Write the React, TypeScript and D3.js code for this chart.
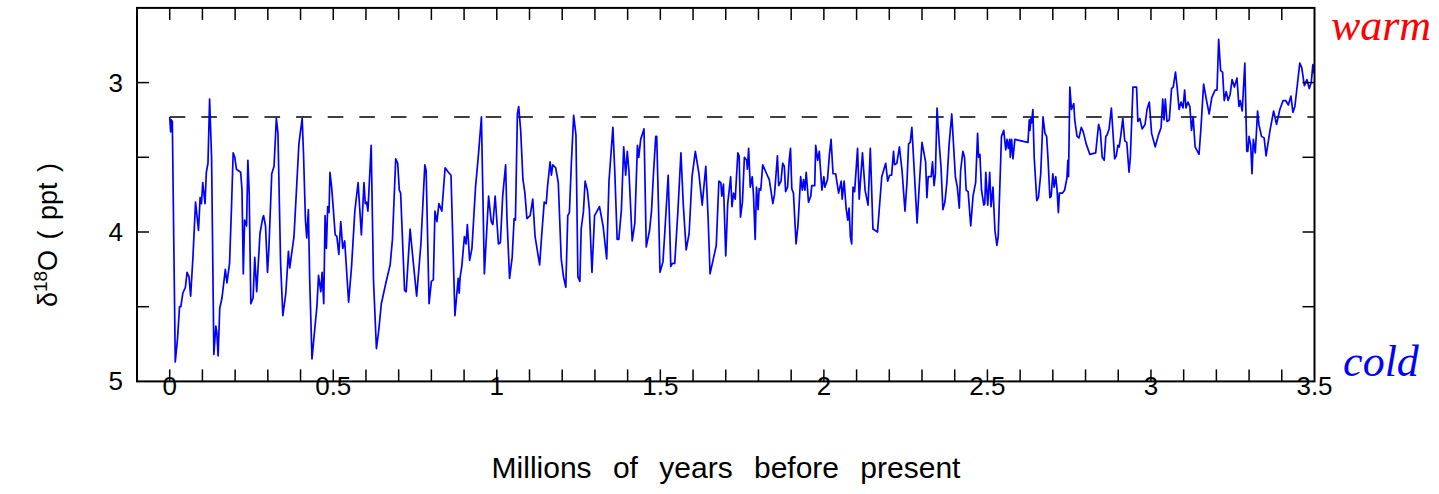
import React, { useEffect } from 'react'
import * as d3 from 'd3'

// age in millions of years before present
const ages = [
  0.000, 0.003, 0.005, 0.008, 0.017, 0.024, 0.030, 0.034, 0.040, 0.048, 0.053, 0.059, 0.064, 0.071, 0.079, 0.088, 0.093, 0.097, 0.101, 0.108,
  0.112, 0.117, 0.122, 0.128, 0.135, 0.141, 0.144, 0.148, 0.153, 0.160, 0.170, 0.175, 0.183, 0.189, 0.194, 0.199, 0.204, 0.217, 0.221, 0.225,
  0.229, 0.235, 0.239, 0.243, 0.248, 0.255, 0.260, 0.266, 0.276, 0.284, 0.287, 0.293, 0.299, 0.303, 0.312, 0.319, 0.326, 0.331, 0.339, 0.346,
  0.355, 0.363, 0.367, 0.380, 0.395, 0.405, 0.409, 0.415, 0.419, 0.424, 0.428, 0.435, 0.443, 0.450, 0.455, 0.462, 0.466, 0.471, 0.475, 0.479,
  0.483, 0.487, 0.490, 0.495, 0.499, 0.506, 0.511, 0.517, 0.523, 0.529, 0.535, 0.547, 0.556, 0.566, 0.576, 0.580, 0.586, 0.594, 0.598, 0.602,
  0.606, 0.616, 0.623, 0.632, 0.639, 0.647, 0.661, 0.674, 0.681, 0.691, 0.697, 0.702, 0.706, 0.718, 0.723, 0.735, 0.745, 0.755, 0.768, 0.780,
  0.784, 0.793, 0.800, 0.806, 0.811, 0.817, 0.823, 0.832, 0.842, 0.852, 0.860, 0.872, 0.882, 0.885, 0.888, 0.893, 0.901, 0.906, 0.910, 0.917,
  0.924, 0.935, 0.944, 0.953, 0.962, 0.975, 0.983, 0.988, 0.995, 1.005, 1.011, 1.018, 1.027, 1.031, 1.039, 1.047, 1.053, 1.057, 1.063, 1.067,
  1.073, 1.080, 1.086, 1.092, 1.102, 1.110, 1.117, 1.131, 1.137, 1.145, 1.151, 1.155, 1.163, 1.167, 1.171, 1.180, 1.188, 1.197, 1.204, 1.211,
  1.217, 1.222, 1.228, 1.235, 1.242, 1.248, 1.254, 1.258, 1.265, 1.270, 1.277, 1.283, 1.291, 1.299, 1.314, 1.325, 1.336, 1.343, 1.355, 1.361,
  1.368, 1.373, 1.381, 1.388, 1.394, 1.399, 1.404, 1.414, 1.422, 1.430, 1.434, 1.440, 1.450, 1.457, 1.467, 1.473, 1.479, 1.486, 1.489, 1.494,
  1.499, 1.508, 1.514, 1.524, 1.532, 1.537, 1.544, 1.554, 1.563, 1.570, 1.579, 1.588, 1.597, 1.607, 1.618, 1.628, 1.639, 1.646, 1.652, 1.661,
  1.671, 1.679, 1.685, 1.688, 1.693, 1.700, 1.706, 1.715, 1.719, 1.724, 1.729, 1.737, 1.741, 1.745, 1.751, 1.757, 1.764, 1.766, 1.770, 1.775,
  1.781, 1.785, 1.790, 1.794, 1.799, 1.802, 1.807, 1.813, 1.823, 1.833, 1.838, 1.844, 1.849, 1.858, 1.862, 1.869, 1.874, 1.879, 1.883, 1.889,
  1.894, 1.898, 1.902, 1.907, 1.915, 1.921, 1.929, 1.934, 1.938, 1.942, 1.946, 1.953, 1.960, 1.963, 1.972, 1.975, 1.981, 1.986, 1.994, 2.000,
  2.003, 2.011, 2.017, 2.022, 2.028, 2.036, 2.045, 2.053, 2.056, 2.062, 2.068, 2.073, 2.077, 2.081, 2.085, 2.089, 2.094, 2.103, 2.108, 2.118,
  2.126, 2.135, 2.142, 2.150, 2.164, 2.177, 2.189, 2.195, 2.201, 2.207, 2.213, 2.216, 2.223, 2.231, 2.239, 2.248, 2.254, 2.259, 2.264, 2.269,
  2.285, 2.293, 2.300, 2.311, 2.315, 2.319, 2.328, 2.332, 2.337, 2.341, 2.346, 2.353, 2.358, 2.364, 2.370, 2.376, 2.383, 2.391, 2.402, 2.408,
  2.414, 2.418, 2.425, 2.430, 2.435, 2.441, 2.449, 2.456, 2.464, 2.470, 2.473, 2.477, 2.482, 2.489, 2.492, 2.495, 2.501, 2.507, 2.511, 2.517,
  2.523, 2.529, 2.533, 2.543, 2.550, 2.556, 2.560, 2.564, 2.568, 2.570, 2.574, 2.578, 2.584, 2.603, 2.624, 2.628, 2.630, 2.633, 2.635, 2.639,
  2.643, 2.651, 2.656, 2.663, 2.670, 2.676, 2.681, 2.685, 2.691, 2.695, 2.700, 2.704, 2.709, 2.713, 2.717, 2.720, 2.729, 2.736, 2.743, 2.746,
  2.748, 2.752, 2.757, 2.764, 2.767, 2.774, 2.780, 2.787, 2.793, 2.802, 2.813, 2.831, 2.840, 2.845, 2.851, 2.857, 2.862, 2.866, 2.872, 2.879,
  2.884, 2.889, 2.894, 2.899, 2.903, 2.908, 2.914, 2.920, 2.926, 2.933, 2.937, 2.945, 2.956, 2.960, 2.966, 2.969, 2.973, 2.982, 2.988, 2.995,
  3.002, 3.013, 3.023, 3.031, 3.036, 3.040, 3.044, 3.049, 3.056, 3.063, 3.068, 3.075, 3.080, 3.086, 3.092, 3.098, 3.103, 3.107, 3.113, 3.119,
  3.124, 3.129, 3.135, 3.147, 3.153, 3.161, 3.170, 3.178, 3.186, 3.196, 3.202, 3.207, 3.213, 3.219, 3.224, 3.230, 3.236, 3.242, 3.248, 3.255,
  3.263, 3.269, 3.273, 3.279, 3.287, 3.293, 3.296, 3.300, 3.305, 3.309, 3.313, 3.319, 3.326, 3.330, 3.334, 3.338, 3.346, 3.352, 3.364, 3.375,
  3.384, 3.394, 3.404, 3.412, 3.420, 3.428, 3.434, 3.440, 3.455, 3.461, 3.469, 3.477, 3.484, 3.490, 3.495, 3.499,
]

// delta 18O in parts per thousand
const d18O = [
  3.23, 3.33, 3.25, 3.26, 4.87, 4.71, 4.50, 4.50, 4.41, 4.37, 4.27, 4.30, 4.43, 4.17, 3.80, 3.99, 3.77, 3.81, 3.67, 3.81,
  3.60, 3.54, 3.11, 3.50, 4.82, 4.63, 4.67, 4.83, 4.51, 4.44, 4.25, 4.34, 4.21, 3.83, 3.47, 3.50, 3.58, 3.60, 3.72, 4.28,
  3.92, 3.96, 3.52, 3.74, 4.48, 4.44, 4.17, 4.40, 4.01, 3.91, 3.89, 3.96, 4.27, 4.12, 3.61, 3.56, 3.24, 3.34, 4.21, 4.56,
  4.41, 4.13, 4.24, 4.03, 3.41, 3.24, 3.47, 3.92, 4.04, 3.85, 4.32, 4.85, 4.66, 4.50, 4.29, 4.40, 4.27, 4.48, 3.89, 4.11,
  3.83, 3.87, 3.60, 3.70, 3.81, 4.02, 4.03, 4.15, 3.93, 4.11, 4.06, 4.47, 4.23, 3.86, 3.67, 3.81, 4.02, 3.67, 3.81, 3.80,
  3.86, 3.42, 4.32, 4.78, 4.66, 4.48, 4.34, 4.22, 4.05, 3.51, 3.54, 3.72, 3.74, 4.39, 4.40, 3.98, 4.21, 4.43, 4.08, 3.55,
  3.59, 4.48, 4.33, 4.32, 3.86, 3.93, 3.81, 3.86, 3.57, 3.60, 3.62, 4.56, 4.31, 4.41, 4.30, 4.23, 4.03, 4.08, 3.95, 4.19,
  4.11, 3.70, 3.48, 3.23, 4.28, 3.76, 3.93, 3.95, 3.76, 4.08, 4.07, 3.76, 3.55, 3.90, 4.31, 4.17, 3.91, 3.92, 3.21, 3.16,
  3.32, 3.65, 3.74, 3.91, 3.89, 3.78, 4.03, 4.22, 4.03, 3.80, 3.81, 3.70, 3.53, 3.62, 3.55, 3.57, 3.67, 4.18, 4.30, 4.37,
  3.89, 3.87, 3.54, 3.22, 3.35, 4.30, 4.33, 3.98, 3.86, 3.66, 3.72, 3.85, 4.27, 3.89, 3.83, 3.96, 4.18, 3.66, 3.30, 3.61,
  4.05, 4.05, 3.85, 3.43, 3.62, 3.46, 3.59, 4.06, 3.94, 3.42, 3.50, 3.38, 3.31, 4.10, 3.99, 3.86, 3.61, 3.36, 3.36, 3.80,
  4.27, 4.20, 3.99, 3.62, 4.23, 4.21, 4.21, 3.85, 3.47, 3.81, 4.12, 4.01, 3.63, 3.46, 3.61, 3.82, 3.56, 3.90, 4.28, 4.19,
  4.09, 3.66, 3.67, 3.76, 3.68, 4.16, 3.81, 3.63, 3.83, 3.74, 3.78, 3.47, 3.49, 3.90, 3.80, 3.50, 3.52, 3.58, 3.44, 3.70,
  3.63, 3.76, 4.05, 3.70, 3.85, 3.71, 3.72, 3.55, 3.60, 3.65, 3.72, 3.81, 3.75, 3.49, 3.69, 3.66, 3.54, 3.56, 3.73, 3.70,
  3.52, 3.44, 3.71, 3.74, 4.08, 3.95, 3.63, 3.72, 3.65, 3.72, 3.60, 3.80, 3.76, 3.69, 3.69, 3.42, 3.52, 3.46, 3.72, 3.63,
  3.70, 3.65, 3.48, 3.38, 3.61, 3.61, 3.74, 3.66, 3.78, 3.66, 3.84, 3.92, 3.84, 4.03, 4.08, 3.70, 3.73, 3.44, 3.78, 3.47,
  3.72, 3.82, 3.44, 3.98, 4.00, 3.63, 3.54, 3.66, 3.62, 3.62, 3.46, 3.55, 3.54, 3.43, 3.59, 3.86, 3.67, 3.41, 3.40, 3.30,
  3.94, 3.64, 3.40, 3.53, 3.77, 3.63, 3.63, 3.53, 3.69, 3.61, 3.17, 3.42, 3.56, 3.85, 3.80, 3.67, 3.41, 3.21, 3.63, 3.70,
  3.84, 3.59, 3.46, 3.50, 3.72, 3.73, 3.96, 3.76, 3.67, 3.34, 3.50, 3.48, 3.72, 3.82, 3.81, 3.60, 3.82, 3.60, 3.83, 3.70,
  3.99, 4.09, 4.03, 3.36, 3.32, 3.45, 3.38, 3.44, 3.38, 3.50, 3.38, 3.51, 3.38, 3.39, 3.40, 3.25, 3.32, 3.24, 3.27, 3.18,
  3.50, 3.79, 3.77, 3.61, 3.23, 3.34, 3.36, 3.50, 3.77, 3.76, 3.61, 3.70, 3.63, 3.72, 3.87, 3.74, 3.74, 3.72, 3.64, 3.52,
  3.63, 3.03, 3.18, 3.14, 3.25, 3.36, 3.37, 3.30, 3.33, 3.41, 3.48, 3.47, 3.28, 3.32, 3.50, 3.52, 3.36, 3.35, 3.31, 3.17,
  3.34, 3.51, 3.49, 3.42, 3.43, 3.35, 3.24, 3.39, 3.40, 3.60, 3.50, 3.03, 3.03, 3.26, 3.24, 3.27, 3.31, 3.28, 3.18, 3.13,
  3.34, 3.43, 3.35, 3.30, 3.11, 3.25, 3.11, 3.26, 3.25, 3.04, 3.03, 2.93, 3.03, 3.18, 3.13, 3.17, 3.05, 3.17, 3.13, 3.16,
  3.32, 3.23, 3.43, 3.48, 3.30, 3.01, 3.12, 3.21, 3.10, 3.05, 3.05, 2.71, 2.92, 2.93, 3.12, 3.06, 3.12, 3.08, 2.98, 3.03,
  2.97, 3.16, 3.12, 3.19, 2.87, 3.46, 3.46, 3.36, 3.42, 3.61, 3.38, 3.47, 3.19, 3.28, 3.32, 3.36, 3.37, 3.49, 3.32, 3.19,
  3.28, 3.18, 3.12, 3.12, 3.15, 3.09, 3.20, 3.16, 2.87, 2.90, 3.02, 2.98, 3.04, 3.00, 2.88, 2.94,
]

const referenceLevel = 3.23
const xTickValues = [0, 0.5, 1, 1.5, 2, 2.5, 3, 3.5]
const xTickLabels = ['0', '0.5', '1', '1.5', '2', '2.5', '3', '3.5']
const yTickValues = [3, 4, 5]
const yTickLabels = ['3', '4', '5']

const W = 1439
const H = 494
const sans = '"Liberation Sans", Arial, Helvetica, sans-serif'
const serif = '"Liberation Serif", "Times New Roman", serif'

export default function App() {
  useEffect(() => {
    document.body.style.margin = '0'
  }, [])

  const x = d3.scaleLinear().domain([-0.1, 3.5]).range([137, 1314.5])
  const y = d3.scaleLinear().domain([2.5, 5]).range([7.9, 381.4])

  const points: [number, number][] = ages.map((a, i) => [a, d18O[i]])
  const line = d3
    .line<[number, number]>()
    .x(d => x(d[0]))
    .y(d => y(d[1]))

  const [x0, x1] = x.range()
  const [y0, y1] = y.range()
  const tickLen = 12

  // minor ticks every 0.1 along x, every 0.5 along y
  const xTicks = d3.range(0, 35).map(i => i / 10)
  const yTicks = [3, 3.5, 4, 4.5]

  return (
    <svg width={W} height={H} style={{ display: 'block' }}>
      <rect width={W} height={H} fill="#fff" />

      {/* reference level */}
      <line
        x1={x(0)}
        x2={x(3.5)}
        y1={y(referenceLevel)}
        y2={y(referenceLevel)}
        stroke="#000"
        strokeWidth={1.5}
        strokeDasharray="15.6,16"
      />

      <path d={line(points) || ''} fill="none" stroke="#0000ff" strokeWidth={1.7} strokeLinejoin="round" />

      {/* frame */}
      <rect x={x0} y={y0} width={x1 - x0} height={y1 - y0} fill="none" stroke="#000" strokeWidth={2} />

      {xTicks.map(t => (
        <g key={'xt' + t}>
          <line x1={x(t)} x2={x(t)} y1={y1} y2={y1 - tickLen} stroke="#000" strokeWidth={1.5} />
          <line x1={x(t)} x2={x(t)} y1={y0} y2={y0 + tickLen} stroke="#000" strokeWidth={1.5} />
        </g>
      ))}
      {yTicks.map(t => (
        <g key={'yt' + t}>
          <line x1={x0} x2={x0 + tickLen} y1={y(t)} y2={y(t)} stroke="#000" strokeWidth={1.5} />
          <line x1={x1} x2={x1 - tickLen} y1={y(t)} y2={y(t)} stroke="#000" strokeWidth={1.5} />
        </g>
      ))}

      {xTickValues.map((t, i) => (
        <text key={'xl' + t} x={x(t)} y={395} textAnchor="middle" fontFamily={sans} fontSize={26} fill="#000">
          {xTickLabels[i]}
        </text>
      ))}
      {yTickValues.map((t, i) => (
        <text key={'yl' + t} x={123} y={y(t) + 9} textAnchor="end" fontFamily={sans} fontSize={26} fill="#000">
          {yTickLabels[i]}
        </text>
      ))}

      <text x={726} y={478} textAnchor="middle" fontFamily={sans} fontSize={30} wordSpacing={13} fill="#000">
        Millions of years before present
      </text>

      <text
        transform="translate(57,235) rotate(-90)"
        textAnchor="middle"
        fontFamily={sans}
        fontSize={27}
        wordSpacing={3}
        fill="#000"
      >
        δ<tspan dy={-10} fontSize={19}>18</tspan>
        <tspan dy={10}>O ( ppt )</tspan>
      </text>

      <text x={1381} y={40} textAnchor="middle" fontFamily={serif} fontStyle="italic" fontSize={44} fill="#ff0000">
        warm
      </text>
      <text x={1381} y={376} textAnchor="middle" fontFamily={serif} fontStyle="italic" fontSize={44} fill="#0000ff">
        cold
      </text>
    </svg>
  )
}
